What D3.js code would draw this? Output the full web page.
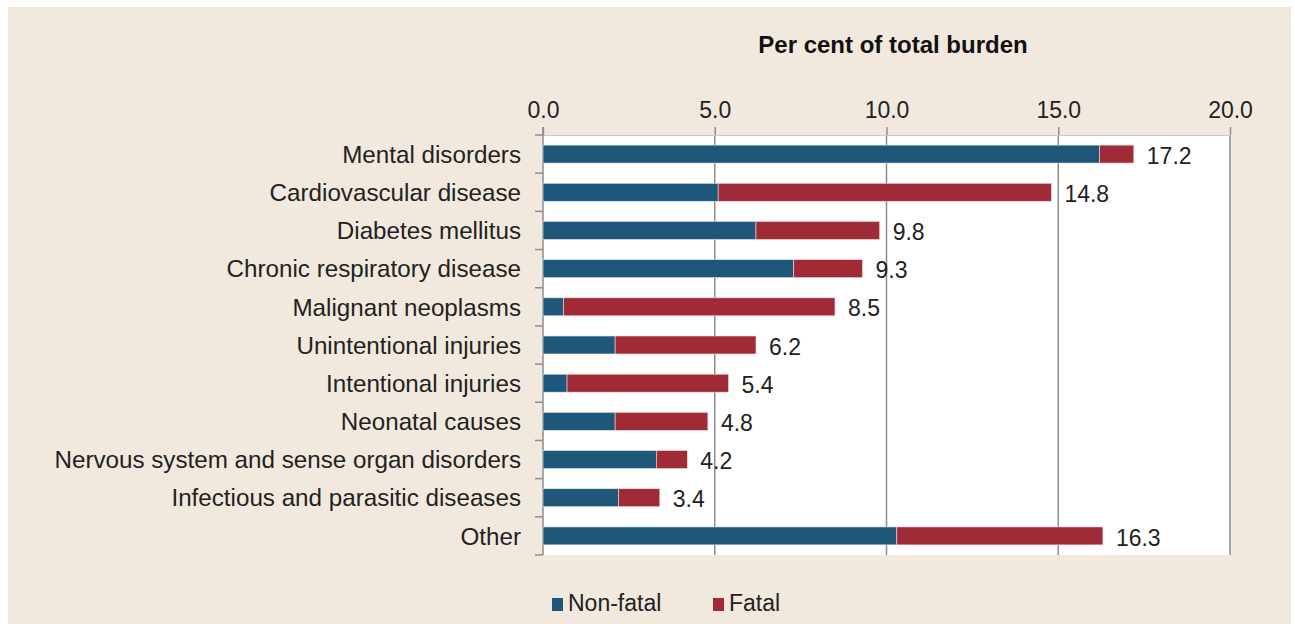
<!DOCTYPE html>
<html>
<head>
<meta charset="utf-8">
<script src="https://cdn.jsdelivr.net/npm/d3@7"></script>
<style>
  html, body { margin: 0; padding: 0; background: #fff; }
  svg { display: block; font-family: "Liberation Sans", Arial, sans-serif; }
</style>
</head>
<body>
<div id="chart"></div>
<script>
// Data
const categories = [
  "Mental disorders",
  "Cardiovascular disease",
  "Diabetes mellitus",
  "Chronic respiratory disease",
  "Malignant neoplasms",
  "Unintentional injuries",
  "Intentional injuries",
  "Neonatal causes",
  "Nervous system and sense organ disorders",
  "Infectious and parasitic diseases",
  "Other"
];
const nonFatal = [16.2, 5.1, 6.2, 7.3, 0.6, 2.1, 0.7, 2.1, 3.3, 2.2, 10.3];
const fatal    = [1.0, 9.7, 3.6, 2.0, 7.9, 4.1, 4.7, 2.7, 0.9, 1.2, 6.0];
const totals   = [17.2, 14.8, 9.8, 9.3, 8.5, 6.2, 5.4, 4.8, 4.2, 3.4, 16.3];
const xTicks = [0, 5, 10, 15, 20];
const seriesNames = ["Non-fatal", "Fatal"];
const colors = ["#1e5779", "#a12a37"];

const W = 1295, H = 624;
const margin = { top: 135, left: 543, right: 65, bottom: 69 };
const iw = W - margin.left - margin.right;   // 687
const ih = H - margin.top - margin.bottom;   // 420

const svg = d3.select("#chart").append("svg")
  .attr("width", W)
  .attr("height", H);

// beige panel
svg.append("rect")
  .attr("x", 8).attr("y", 7)
  .attr("width", 1283).attr("height", H - 7)
  .attr("fill", "#f1e9de");

const g = svg.append("g")
  .attr("transform", `translate(${margin.left},${margin.top})`);

const x = d3.scaleLinear().domain([0, 20]).range([0, iw]);
const y = d3.scaleBand().domain(categories).range([0, ih]).paddingInner(0.53).paddingOuter(0.265);

// plot background
g.append("rect")
  .attr("width", iw).attr("height", ih)
  .attr("fill", "#fff");

// grid lines
g.selectAll("line.grid")
  .data(xTicks.slice(1))
  .join("line")
  .attr("class", "grid")
  .attr("x1", d => x(d)).attr("x2", d => x(d))
  .attr("y1", 0).attr("y2", ih)
  .attr("stroke", "#8d8d8d")
  .attr("stroke-width", 1.5);

// top axis
const xAxis = g.append("g")
  .call(d3.axisTop(x).tickValues(xTicks).tickFormat(d3.format(".1f")).tickSize(8).tickPadding(9));
xAxis.select(".domain").attr("stroke", "#c9c9c9");
xAxis.selectAll(".tick line").attr("stroke", "#8d8d8d").attr("stroke-width", 1.5);
xAxis.selectAll(".tick text")
  .attr("font-size", 23)
  .attr("font-family", "Liberation Sans, Arial, sans-serif")
  .attr("fill", "#222");

// left axis line + boundary ticks
g.append("line")
  .attr("x1", 0).attr("x2", 0).attr("y1", -8).attr("y2", ih)
  .attr("stroke", "#8d8d8d").attr("stroke-width", 1.5);
const step = y.step();
g.selectAll("line.cattick")
  .data(d3.range(categories.length + 1))
  .join("line")
  .attr("class", "cattick")
  .attr("x1", -8).attr("x2", 0)
  .attr("y1", i => i * step).attr("y2", i => i * step)
  .attr("stroke", "#8d8d8d").attr("stroke-width", 1.5);

// category labels
g.selectAll("text.cat")
  .data(categories)
  .join("text")
  .attr("class", "cat")
  .attr("x", -22)
  .attr("y", d => y(d) + y.bandwidth() / 2)
  .attr("dy", "0.36em")
  .attr("text-anchor", "end")
  .attr("font-size", 24.2)
  .attr("fill", "#222")
  .text(d => d);

// stacked bars
const rows = categories.map((c, i) => ({ c, nf: nonFatal[i], f: fatal[i], t: totals[i] }));
const bars = g.selectAll("g.bar").data(rows).join("g").attr("class", "bar");
bars.append("rect")
  .attr("x", x(0))
  .attr("y", d => y(d.c))
  .attr("width", d => x(d.nf) - x(0))
  .attr("height", y.bandwidth())
  .attr("fill", colors[0])
  .attr("stroke", "#dfe7ee").attr("stroke-width", 0.6);
bars.append("rect")
  .attr("x", d => x(d.nf))
  .attr("y", d => y(d.c))
  .attr("width", d => x(d.nf + d.f) - x(d.nf))
  .attr("height", y.bandwidth())
  .attr("fill", colors[1])
  .attr("stroke", "#f0d8da").attr("stroke-width", 0.6);

// total labels
bars.append("text")
  .attr("x", d => x(d.nf + d.f) + 13)
  .attr("y", d => y(d.c) + y.bandwidth() / 2)
  .attr("dy", "0.42em")
  .attr("font-size", 23)
  .attr("fill", "#222")
  .text(d => d.t.toFixed(1));

// title
svg.append("text")
  .attr("x", 893)
  .attr("y", 53)
  .attr("text-anchor", "middle")
  .attr("font-size", 24)
  .attr("font-weight", "bold")
  .attr("fill", "#111")
  .text("Per cent of total burden");

// legend
const legendX = [552, 713];
const legend = svg.selectAll("g.legend")
  .data(seriesNames)
  .join("g")
  .attr("class", "legend")
  .attr("transform", (d, i) => `translate(${legendX[i]},598)`);
legend.append("rect")
  .attr("width", 11).attr("height", 13)
  .attr("fill", (d, i) => colors[i]);
legend.append("text")
  .attr("x", 16).attr("y", 13)
  .attr("font-size", 23)
  .attr("fill", "#222")
  .text(d => d);
</script>
</body>
</html>
